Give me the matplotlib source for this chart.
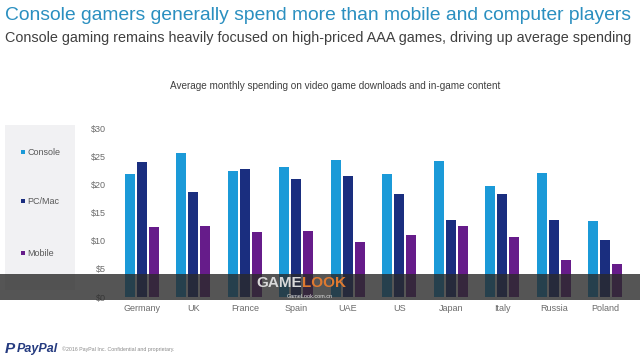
import matplotlib
matplotlib.use("Agg")
import matplotlib.pyplot as plt
from matplotlib.patches import Rectangle
import numpy as np

plt.rcParams['font.family'] = ['Liberation Sans', 'DejaVu Sans']

countries = ["Germany", "UK", "France", "Spain", "UAE", "US", "Japan", "Italy", "Russia", "Poland"]
console = [21.8, 25.6, 22.4, 23.0, 24.3, 21.9, 24.2, 19.7, 22.1, 13.5]
pc_mac = [24.0, 18.7, 22.7, 20.9, 21.4, 18.2, 13.7, 18.3, 13.7, 10.1]
mobile = [12.5, 12.6, 11.5, 11.8, 9.7, 11.0, 12.6, 10.6, 6.6, 5.9]
series_names = ["Console", "PC/Mac", "Mobile"]
colors = ["#1b9ad8", "#1a2e7f", "#661c8a"]
yticks = [0, 5, 10, 15, 20, 25, 30]
ytick_labels = ["$0", "$5", "$10", "$15", "$20", "$25", "$30"]

W, H = 640, 360
fig = plt.figure(figsize=(6.4, 3.6), dpi=100)
fig.patch.set_facecolor("white")

def fx(px):
    return px / W

def fy(py):
    return 1 - py / H

# axes: x 110..636, y 128..297
ax = fig.add_axes([fx(110), fy(297), fx(636) - fx(110), fy(128) - fy(297)])
x = np.arange(len(countries))
bw = 0.19
off = 0.233
for i, (vals, c) in enumerate(zip([console, pc_mac, mobile], colors)):
    ax.bar(x + (i - 1) * off, vals, width=bw, color=c, zorder=2)
ax.set_xlim(-0.62, 9.6)
ax.set_ylim(0, 30)
ax.set_yticks(yticks)
ax.set_yticklabels(ytick_labels)
ax.set_xticks(x)
ax.set_xticklabels(countries)
for s in ax.spines.values():
    s.set_visible(False)
ax.tick_params(axis="both", length=0, labelsize=6.5, colors="#6b6b6b")
ax.tick_params(axis="y", pad=3)
ax.tick_params(axis="x", pad=5)

# legend box
fig.patches.append(Rectangle((fx(5), fy(290)), fx(75) - fx(5), fy(125) - fy(290),
                             transform=fig.transFigure, facecolor="#f1f1f3", edgecolor="none", zorder=0))
for name, c, py in zip(series_names, colors, [152, 201, 253]):
    fig.patches.append(Rectangle((fx(21), fy(py) - 2.0 / H), 4.0 / W, 4.0 / H,
                                 transform=fig.transFigure, facecolor=c, edgecolor="none", zorder=1))
    fig.text(fx(27), fy(py), name, fontsize=6.5, color="#595959", va="center", ha="left")

# titles
fig.text(fx(5), fy(15), "Console gamers generally spend more than mobile and computer players",
         fontsize=13.9, color="#2a8fc0", va="center", ha="left")
fig.text(fx(5), fy(38), "Console gaming remains heavily focused on high-priced AAA games, driving up average spending",
         fontsize=10.35, color="#404040", va="center", ha="left")
fig.text(fx(335), fy(86), "Average monthly spending on video game downloads and in-game content",
         fontsize=7.2, color="#404040", va="center", ha="center")

# watermark band
fig.patches.append(Rectangle((0, fy(300)), 1, fy(274) - fy(300), transform=fig.transFigure,
                             facecolor="#2a2a2a", edgecolor="none", alpha=0.8, zorder=5))
fig.text(fx(302), fy(283), "GAME", fontsize=11, fontweight="bold", color="#d9d9d9",
         va="center", ha="right", zorder=6)
fig.text(fx(302), fy(283), "LOOK", fontsize=11, fontweight="bold", color="#e07a30",
         va="center", ha="left", zorder=6)
fig.text(fx(310), fy(296), "GameLook.com.cn", fontsize=4, color="#e0e0e0",
         va="center", ha="center", zorder=6)

# footer
fig.text(fx(5), fy(349), "P", fontsize=11, fontweight="bold", style="italic", color="#253b80",
         va="center", ha="left")
fig.text(fx(17), fy(349), "PayPal", fontsize=9, fontweight="bold", style="italic", color="#253b80",
         va="center", ha="left")
fig.text(fx(62), fy(349), "\u00a92016 PayPal Inc. Confidential and proprietary.", fontsize=3.8,
         color="#8a8a8a", va="center", ha="left")

fig.savefig("out.png", dpi=100)
